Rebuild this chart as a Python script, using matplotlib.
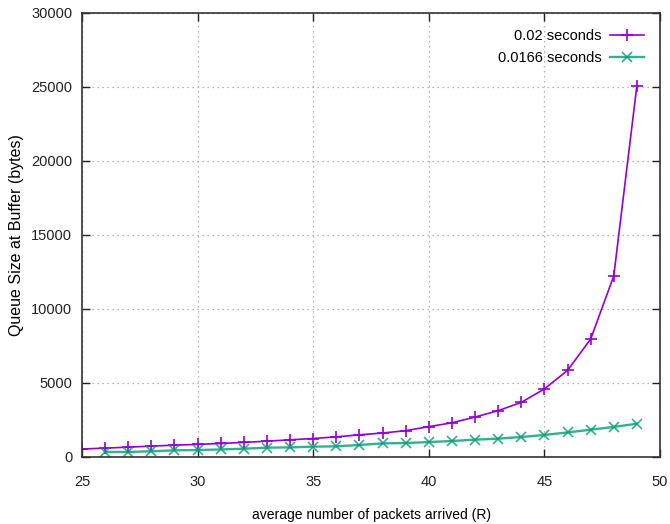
import matplotlib
matplotlib.use("Agg")
import matplotlib.pyplot as plt

# values
r_02 = list(range(25, 50))
q_02 = [540, 600, 665, 735, 800, 850, 915, 985, 1070, 1160, 1250, 1360, 1500,
        1620, 1780, 2050, 2310, 2700, 3130, 3690, 4600, 5850, 7970, 12230, 25090]

r_0166 = list(range(26, 50))
q_0166 = [340, 340, 385, 450, 470, 510, 560, 630, 650, 700, 720, 810, 920,
          945, 1010, 1080, 1170, 1240, 1350, 1490, 1660, 1845, 2030, 2250]

x_ticks = [25, 30, 35, 40, 45, 50]
y_ticks = [0, 5000, 10000, 15000, 20000, 25000, 30000]

plt.rcParams['font.family'] = ['Liberation Sans', 'DejaVu Sans']

fig = plt.figure(figsize=(6.7, 5.24), dpi=100)
ax = fig.add_axes([82/670, 1 - 457/524, (660 - 82)/670, (457 - 13)/524])

ax.plot(r_02, q_02, color='#9400D3', lw=1.2, marker='+', ms=8, mew=1.2,
        label='0.02 seconds')
ax.plot(r_0166, q_0166, color='#009E73', lw=1.7, marker='x', ms=6.5, mew=1.2,
        label='0.0166 seconds', alpha=0.8)

ax.set_xlim(25, 50)
ax.set_ylim(0, 30000)
ax.set_xticks(x_ticks)
ax.set_yticks(y_ticks)

ax.grid(True, color='#a0a0a0', linestyle=(0, (1, 3)), lw=0.9)
ax.tick_params(direction='in', length=6, width=1, top=True, right=True,
               labelsize=10.5, colors='#222222')
ax.tick_params(axis='x', pad=13)
ax.tick_params(axis='y', pad=7)
for s in ax.spines.values():
    s.set_linewidth(1.2)
    s.set_color('#333333')

ax.set_xlabel("average number of packets arrived (R)", fontsize=10, labelpad=14)
ax.set_ylabel("Queue Size at Buffer (bytes)", fontsize=11.5, labelpad=5)

leg = ax.legend(loc='upper right', frameon=False, markerfirst=False,
                fontsize=10.5, handlelength=2.3, borderaxespad=0.7,
                labelspacing=0.55, handletextpad=0.6)

plt.savefig('out.png', dpi=100)
